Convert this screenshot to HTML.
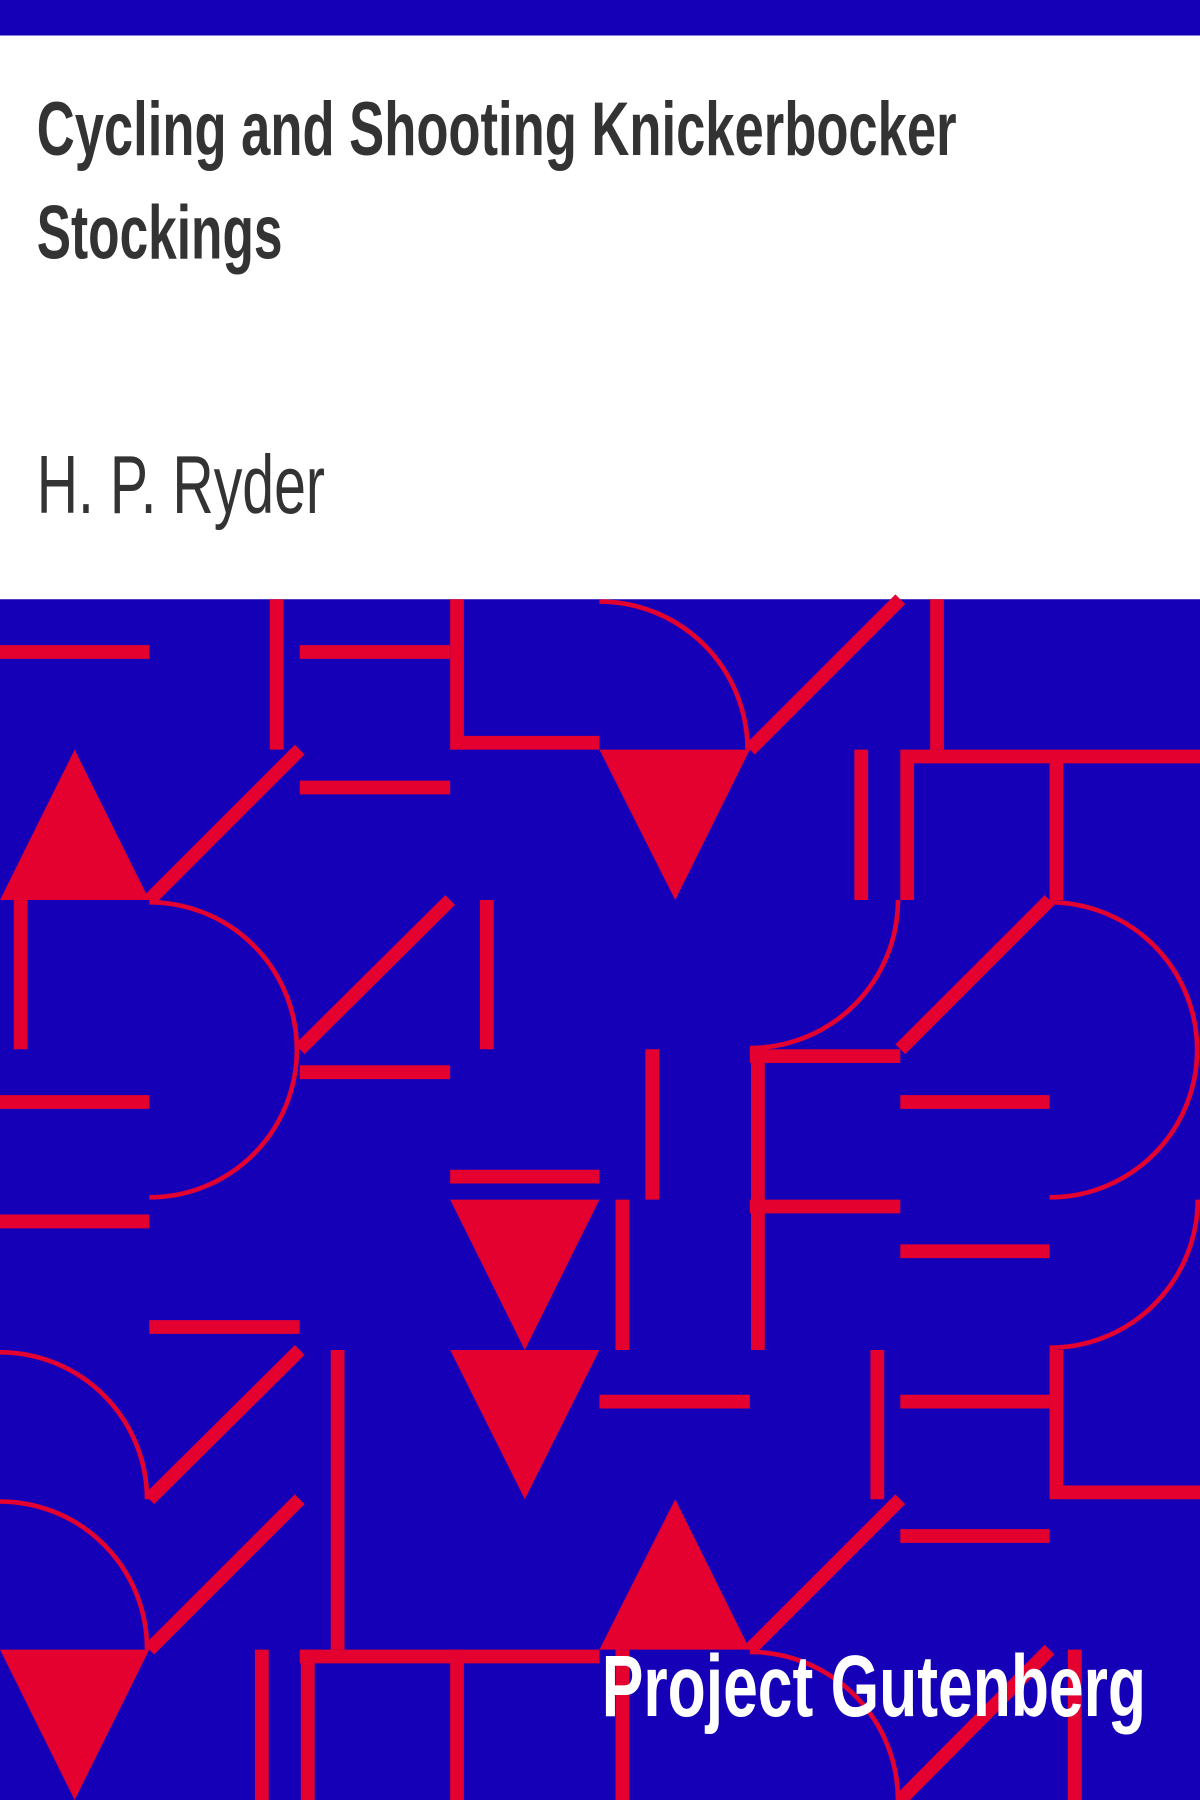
<!DOCTYPE html>
<html><head><meta charset="utf-8"><style>
html,body{margin:0;padding:0;background:#fff}
svg{display:block}
</style></head><body>
<svg width="1200" height="1800" viewBox="0 0 1045 1568" preserveAspectRatio="none" xmlns="http://www.w3.org/2000/svg">
<rect x="0" y="0" width="1045" height="31" fill="#1500b8"/>
<rect x="0" y="31" width="1045" height="491" fill="#fff"/>
<text x="32" y="135" font-family="'Liberation Sans Narrow','Liberation Sans',sans-serif" font-weight="bold" font-size="66" fill="#333" textLength="801" lengthAdjust="spacingAndGlyphs">Cycling and Shooting Knickerbocker</text>
<text x="32" y="225" font-family="'Liberation Sans Narrow','Liberation Sans',sans-serif" font-weight="bold" font-size="66" fill="#333" textLength="214" lengthAdjust="spacingAndGlyphs">Stockings</text>
<text x="32" y="447" font-family="'Liberation Sans Narrow','Liberation Sans',sans-serif" font-size="72" fill="#333" textLength="251" lengthAdjust="spacingAndGlyphs">H. P. Ryder</text>
<g>
<rect x="0" y="522" width="1045" height="1046" fill="#1500b8"/>
<g fill="#e4002f" stroke="none">
<polygon points="0,784 130,784 65,653"/>
<polygon points="522,653 653,653 588,784"/>
<polygon points="392,1045 522,1045 457,1176"/>
<polygon points="392,1176 522,1176 457,1306"/>
<polygon points="522,1437 653,1437 588,1306"/>
<polygon points="0,1437 130,1437 65,1568"/>
</g>
<g stroke="#e4002f" stroke-width="12" fill="none">
<line x1="0" y1="568" x2="130" y2="568"/>
<line x1="241" y1="522" x2="241" y2="653"/>
<line x1="261" y1="568" x2="392" y2="568"/>
<polyline points="398,522 398,647 522,647"/>
<line x1="653" y1="653" x2="784" y2="522"/>
<line x1="816" y1="522" x2="816" y2="653"/>
<line x1="130" y1="784" x2="261" y2="653"/>
<line x1="261" y1="686" x2="392" y2="686"/>
<line x1="750" y1="653" x2="750" y2="784"/>
<polyline points="790,784 790,659 1045,659"/>
<line x1="920" y1="659" x2="920" y2="784"/>
<line x1="18" y1="784" x2="18" y2="914"/>
<line x1="261" y1="914" x2="392" y2="784"/>
<line x1="424" y1="784" x2="424" y2="914"/>
<line x1="784" y1="914" x2="914" y2="784"/>
<line x1="0" y1="960" x2="130" y2="960"/>
<line x1="261" y1="934" x2="392" y2="934"/>
<line x1="392" y1="1025" x2="522" y2="1025"/>
<line x1="568" y1="914" x2="568" y2="1045"/>
<line x1="660" y1="914" x2="660" y2="1176"/>
<line x1="653" y1="920" x2="784" y2="920"/>
<line x1="653" y1="1051" x2="784" y2="1051"/>
<line x1="784" y1="960" x2="914" y2="960"/>
<line x1="0" y1="1064" x2="130" y2="1064"/>
<line x1="542" y1="1045" x2="542" y2="1176"/>
<line x1="784" y1="1090" x2="914" y2="1090"/>
<line x1="130" y1="1156" x2="261" y2="1156"/>
<line x1="130" y1="1306" x2="261" y2="1176"/>
<line x1="294" y1="1176" x2="294" y2="1437"/>
<line x1="522" y1="1221" x2="653" y2="1221"/>
<line x1="764" y1="1176" x2="764" y2="1306"/>
<line x1="784" y1="1221" x2="914" y2="1221"/>
<polyline points="920,1176 920,1300 1045,1300"/>
<line x1="130" y1="1437" x2="261" y2="1306"/>
<line x1="653" y1="1437" x2="784" y2="1306"/>
<line x1="784" y1="1338" x2="914" y2="1338"/>
<line x1="228" y1="1437" x2="228" y2="1568"/>
<line x1="261" y1="1443" x2="522" y2="1443"/>
<line x1="268" y1="1437" x2="268" y2="1568"/>
<line x1="398" y1="1437" x2="398" y2="1568"/>
<line x1="542" y1="1437" x2="542" y2="1568"/>
<line x1="784" y1="1568" x2="914" y2="1437"/>
<line x1="936" y1="1437" x2="936" y2="1568"/>
</g>
<g stroke="#e4002f" stroke-width="4" fill="none">
<path d="M522,524 A129,129 0 0 1 651,653"/>
<path d="M130,786 A128,128 0 0 1 130,1043"/>
<path d="M782,784 A129,129 0 0 1 653,913"/>
<path d="M914,786 A128,128 0 0 1 914,1043"/>
<path d="M1043,1045 A129,129 0 0 1 914,1174"/>
<path d="M0,1178 A128,128 0 0 1 128,1306"/>
<path d="M0,1308 A128,128 0 0 1 128,1437"/>
<path d="M653,1439 A129,129 0 0 1 782,1568"/>
</g>
</g>
<text x="524" y="1495" font-family="'Liberation Sans Narrow','Liberation Sans',sans-serif" font-weight="bold" font-size="76" fill="#fff" textLength="474" lengthAdjust="spacingAndGlyphs">Project Gutenberg</text>
</svg>
</body></html>
